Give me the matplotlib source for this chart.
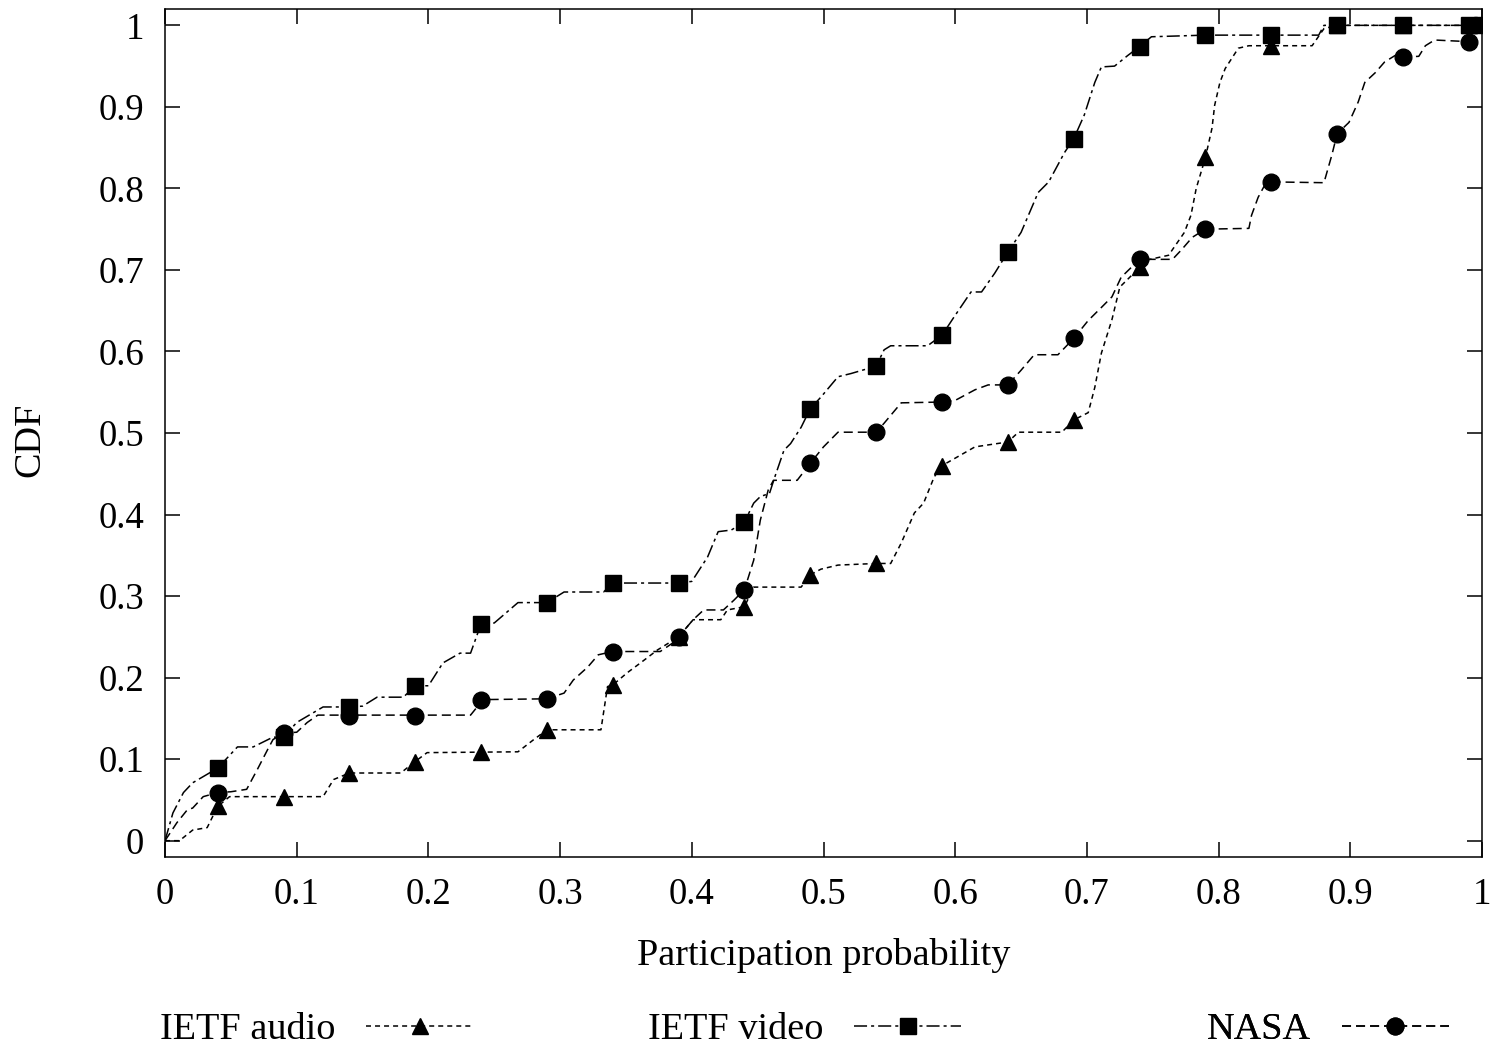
import matplotlib
matplotlib.use("Agg")
import matplotlib.pyplot as plt
from matplotlib.legend_handler import HandlerTuple

plt.rcParams['font.family'] = ['Liberation Serif', 'DejaVu Serif']
plt.rcParams['lines.scale_dashes'] = False

# marker positions (every 0.05, as in the original plot)
mark_x = [0.04, 0.09, 0.14, 0.19, 0.24, 0.29, 0.34, 0.39, 0.44, 0.49,
          0.54, 0.59, 0.64, 0.69, 0.74, 0.79, 0.84, 0.89, 0.94, 0.99]

# IETF audio
audio_x = [0, 0.011, 0.021, 0.032, 0.04, 0.049, 0.12, 0.128, 0.14, 0.179, 0.189, 0.199,
           0.268, 0.28, 0.29, 0.331, 0.336, 0.34, 0.351, 0.361, 0.374, 0.39, 0.401, 0.422,
           0.427, 0.44, 0.447, 0.483, 0.49, 0.498, 0.511, 0.54, 0.551, 0.559, 0.569, 0.576,
           0.584, 0.59, 0.602, 0.615, 0.64, 0.648, 0.681, 0.69, 0.701, 0.706, 0.711, 0.719,
           0.725, 0.74, 0.745, 0.762, 0.774, 0.779, 0.783, 0.79, 0.795, 0.797, 0.801, 0.805,
           0.815, 0.823, 0.871, 0.88, 0.89, 1.0]
audio_y = [0, 0.0, 0.013, 0.016, 0.042, 0.054, 0.054, 0.075, 0.083, 0.083, 0.096, 0.108,
           0.109, 0.124, 0.136, 0.136, 0.189, 0.191, 0.206, 0.218, 0.234, 0.25, 0.271, 0.271,
           0.283, 0.287, 0.311, 0.311, 0.326, 0.333, 0.338, 0.34, 0.34, 0.365, 0.402, 0.414,
           0.446, 0.46, 0.471, 0.483, 0.489, 0.501, 0.501, 0.516, 0.525, 0.556, 0.598, 0.639,
           0.679, 0.703, 0.712, 0.718, 0.746, 0.767, 0.80, 0.838, 0.874, 0.902, 0.93, 0.947,
           0.972, 0.975, 0.975, 0.996, 1.0, 1.0]
audio_mark = [0.042, 0.054, 0.083, 0.097, 0.109, 0.136, 0.191, 0.25, 0.287, 0.326,
              0.34, 0.46, 0.489, 0.516, 0.703, 0.838, 0.975, 1.0, 1.0, 1.0]

# IETF video
video_x = [0, 0.006, 0.014, 0.021, 0.04, 0.055, 0.067, 0.082, 0.09, 0.10, 0.12, 0.14, 0.15,
           0.161, 0.181, 0.19, 0.20, 0.211, 0.224, 0.232, 0.24, 0.25, 0.268, 0.29, 0.303,
           0.333, 0.34, 0.39, 0.40, 0.412, 0.42, 0.43, 0.44, 0.447, 0.452, 0.459, 0.463, 0.47,
           0.475, 0.483, 0.49, 0.498, 0.511, 0.521, 0.54, 0.546, 0.551, 0.579, 0.59, 0.599,
           0.612, 0.62, 0.63, 0.64, 0.65, 0.663, 0.671, 0.683, 0.69, 0.698, 0.706, 0.711,
           0.721, 0.731, 0.74, 0.749, 0.79, 0.876, 0.88, 1.0]
video_y = [0, 0.034, 0.059, 0.071, 0.089, 0.115, 0.115, 0.127, 0.127, 0.145, 0.164, 0.164,
           0.165, 0.176, 0.176, 0.19, 0.19, 0.218, 0.23, 0.23, 0.266, 0.267, 0.292, 0.292,
           0.305, 0.305, 0.316, 0.316, 0.318, 0.348, 0.379, 0.381, 0.391, 0.414, 0.422, 0.426,
           0.446, 0.479, 0.487, 0.507, 0.53, 0.544, 0.569, 0.573, 0.582, 0.602, 0.607, 0.607,
           0.62, 0.642, 0.673, 0.673, 0.696, 0.722, 0.746, 0.795, 0.808, 0.844, 0.861, 0.89,
           0.93, 0.949, 0.95, 0.963, 0.974, 0.986, 0.988, 0.988, 1.0, 1.0]
video_mark_x = mark_x + [1.0]
video_mark = [0.089, 0.127, 0.164, 0.19, 0.266, 0.292, 0.316, 0.316, 0.391, 0.53,
              0.582, 0.62, 0.722, 0.861, 0.974, 0.988, 0.988, 1.0, 1.0, 1.0, 1.0]

# NASA
nasa_x = [0, 0.009, 0.017, 0.021, 0.029, 0.04, 0.05, 0.062, 0.07, 0.078, 0.082, 0.09, 0.10,
          0.108, 0.116, 0.232, 0.237, 0.24, 0.29, 0.303, 0.31, 0.321, 0.329, 0.34, 0.376,
          0.386, 0.39, 0.401, 0.409, 0.424, 0.432, 0.44, 0.447, 0.452, 0.458, 0.462, 0.48,
          0.49, 0.50, 0.511, 0.54, 0.546, 0.559, 0.59, 0.60, 0.615, 0.625, 0.64, 0.65, 0.66,
          0.678, 0.69, 0.701, 0.711, 0.719, 0.726, 0.74, 0.765, 0.772, 0.78, 0.79, 0.823,
          0.825, 0.83, 0.835, 0.84, 0.88, 0.886, 0.89, 0.899, 0.906, 0.911, 0.919, 0.926,
          0.934, 0.94, 0.952, 0.957, 0.964, 0.99]
nasa_y = [0, 0.022, 0.038, 0.04, 0.054, 0.059, 0.06, 0.063, 0.087, 0.112, 0.124, 0.132, 0.133,
          0.145, 0.154, 0.154, 0.164, 0.173, 0.174, 0.181, 0.197, 0.213, 0.228, 0.232, 0.232,
          0.243, 0.25, 0.271, 0.283, 0.283, 0.295, 0.308, 0.344, 0.393, 0.43, 0.442, 0.442,
          0.463, 0.483, 0.501, 0.501, 0.512, 0.537, 0.538, 0.54, 0.553, 0.559, 0.559, 0.577,
          0.596, 0.596, 0.616, 0.638, 0.654, 0.667, 0.691, 0.713, 0.713, 0.725, 0.74, 0.75,
          0.751, 0.767, 0.789, 0.804, 0.808, 0.807, 0.841, 0.867, 0.881, 0.906, 0.93, 0.942,
          0.955, 0.963, 0.961, 0.962, 0.975, 0.982, 0.98]
nasa_mark = [0.059, 0.132, 0.153, 0.153, 0.173, 0.174, 0.232, 0.25, 0.308, 0.463,
             0.501, 0.538, 0.559, 0.616, 0.713, 0.75, 0.808, 0.867, 0.961, 0.98]

ticks = [0, 0.1, 0.2, 0.3, 0.4, 0.5, 0.6, 0.7, 0.8, 0.9, 1]
tick_labels = ['0', '0.1', '0.2', '0.3', '0.4', '0.5', '0.6', '0.7', '0.8', '0.9', '1']

fig = plt.figure(figsize=(14.92, 10.51), dpi=100)
ax = fig.add_axes([0.1106, 0.1846, 0.8827, 0.8068])

lw = 1.1
la, = ax.plot(audio_x, audio_y, color='black', lw=lw, linestyle=(0, (3.6, 2.9)))
ma, = ax.plot(mark_x, audio_mark, linestyle='none', marker='^', ms=12, color='black')
lv, = ax.plot(video_x, video_y, color='black', lw=lw, linestyle=(0, (9.4, 2.9, 2.2, 2.9)))
mv, = ax.plot(video_mark_x, video_mark, linestyle='none', marker='s', ms=11, color='black')
ln, = ax.plot(nasa_x, nasa_y, color='black', lw=lw, linestyle=(0, (6.5, 3.6)))
mn, = ax.plot(mark_x, nasa_mark, linestyle='none', marker='o', ms=12, color='black')

ax.set_xlim(0, 1)
ax.set_ylim(-0.02, 1.02)
ax.set_xticks(ticks)
ax.set_xticklabels(tick_labels)
ax.set_yticks(ticks)
ax.set_yticklabels(tick_labels)
ax.tick_params(direction='in', length=11, width=1.1, labelsize=26.5, pad=15,
               top=True, right=True)
for s in ax.spines.values():
    s.set_linewidth(1.1)

ax.set_xlabel('Participation probability', fontsize=27.5, va='center')
ax.xaxis.set_label_coords(0.5, -0.1156)
ax.set_ylabel('CDF', fontsize=27.5, va='center')
ax.yaxis.set_label_coords(-0.1025, 0.4917)

# legend row under the plot, one entry per series
entries = [((la, ma), 'IETF audio', 160), ((lv, mv), 'IETF video', 648), ((ln, mn), 'NASA', 1207)]
for handle, label, px in entries:
    leg = ax.legend([handle], [label], loc='center left',
                    bbox_to_anchor=(px / 1492, 1 - 1030 / 1051), bbox_transform=fig.transFigure,
                    frameon=False, markerfirst=False, fontsize=27.5, handlelength=2.8,
                    handletextpad=0.8, borderpad=0, borderaxespad=0, numpoints=1,
                    handler_map={tuple: HandlerTuple(ndivide=1)})
    ax.add_artist(leg)

fig.savefig('out.png', dpi=100)
